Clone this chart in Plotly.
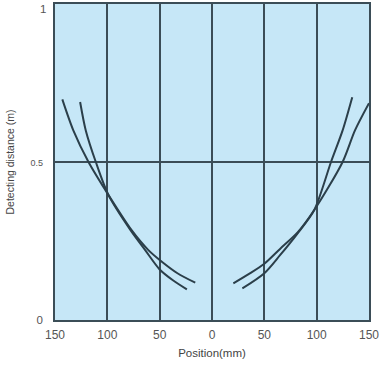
import plotly.graph_objects as go

# Left side curves (position in mm, negative = left side)
left_a_x = [-143, -132.5, -118, -99, -77, -61, -50, -33, -16]
left_a_y = [0.698, 0.60, 0.50, 0.396, 0.285, 0.222, 0.19, 0.148, 0.118]
left_b_x = [-126, -120.6, -111, -99, -78, -64, -50, -37, -24]
left_b_y = [0.69, 0.60, 0.50, 0.396, 0.285, 0.222, 0.16, 0.125, 0.097]

# Right side curves
right_c_x = [134, 124.8, 113.7, 97.7, 82, 65, 50, 29]
right_c_y = [0.705, 0.60, 0.50, 0.348, 0.275, 0.205, 0.148, 0.10]
right_d_x = [150, 136.6, 124.8, 97.7, 82, 65, 50, 35, 20.4]
right_d_y = [0.686, 0.60, 0.50, 0.348, 0.278, 0.225, 0.178, 0.145, 0.116]

x_tickvals = [-150, -100, -50, 0, 50, 100, 150]
x_ticktext = ["150", "100", "50", "0", "50", "100", "150"]
y_tickvals = [0, 0.5, 1]
y_ticktext = ["0", "<span style='font-size:9px'>0.5</span>", "1"]

line_color = "#2b3f4a"
grid_color = "#3b4d57"

fig = go.Figure()
for xs, ys in [(left_a_x, left_a_y), (left_b_x, left_b_y),
               (right_c_x, right_c_y), (right_d_x, right_d_y)]:
    fig.add_trace(go.Scatter(x=xs, y=ys, mode="lines",
                             line=dict(color=line_color, width=2, shape="spline", smoothing=0.8),
                             showlegend=False, hoverinfo="skip"))

# top tick label drawn as annotation so it is not hidden at the paper edge
fig.add_annotation(x=0, xref="paper", xanchor="right", xshift=-7,
                   y=y_tickvals[-1], yref="y", yanchor="top", yshift=3,
                   text=y_ticktext[-1], showarrow=False,
                   font=dict(size=11.5, color="#555555"))

fig.update_layout(
    width=381, height=368,
    margin=dict(l=55, r=12, t=4, b=48, autoexpand=False),
    paper_bgcolor="white",
    plot_bgcolor="#c6e7f7",
    font=dict(family="Liberation Sans, Arial, sans-serif", color="#555555", size=11),
    xaxis=dict(range=[-150, 150], tickvals=x_tickvals, ticktext=x_ticktext,
               showgrid=True, gridcolor=grid_color, gridwidth=1.5,
               showline=True, linecolor=grid_color, linewidth=1.5, mirror=True,
               zeroline=False, ticks="", tickfont=dict(size=12, color="#555555"),
               automargin=False, ticklabelstandoff=3,
               title=dict(text="Position(mm)", font=dict(size=11.5, color="#444444"), standoff=8)),
    yaxis=dict(range=[0, 1], tickvals=y_tickvals[:-1], ticktext=y_ticktext[:-1],
               showgrid=True, gridcolor=grid_color, gridwidth=1.5,
               showline=True, linecolor=grid_color, linewidth=1.5, mirror=True,
               zeroline=False, ticks="", tickfont=dict(size=11.5, color="#555555"),
               automargin=False, ticklabelstandoff=8,
               title=dict(text="Detecting distance (m)", font=dict(size=10.5, color="#444444"), standoff=14)),
)

fig.write_html("out.html", config={"displayModeBar": False},
               post_script="document.body.style.margin='0';")
